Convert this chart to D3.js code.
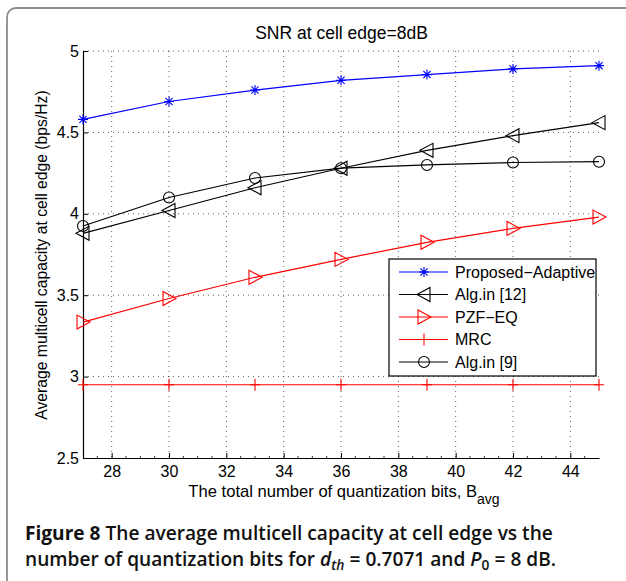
<!DOCTYPE html>
<html><head><meta charset="utf-8">
<script src="https://cdn.jsdelivr.net/npm/d3@7"></script>
<style>
body{margin:0;background:#fff;}
svg{display:block;}
</style></head>
<body>
<script>
// ---- data ----
const bits = [27, 30, 33, 36, 39, 42, 45];
const proposedAdaptive = [4.58, 4.69, 4.76, 4.82, 4.855, 4.89, 4.91];
const algIn12 = [3.88, 4.02, 4.16, 4.28, 4.39, 4.48, 4.56];
const pzfEq = [3.335, 3.48, 3.61, 3.72, 3.825, 3.91, 3.98];
const mrc = [2.95, 2.95, 2.95, 2.95, 2.95, 2.95, 2.95];
const algIn9 = [3.925, 4.10, 4.22, 4.28, 4.30, 4.315, 4.32];
const seriesNames = ["Proposed\u2212Adaptive", "Alg.in [12]", "PZF\u2212EQ", "MRC", "Alg.in [9]"];
const xTicks = [28, 30, 32, 34, 36, 38, 40, 42, 44];
const yTicks = [2.5, 3, 3.5, 4, 4.5, 5];
const yTickLabels = ["2.5", "3", "3.5", "4", "4.5", "5"];
const titleText = "SNR at cell edge=8dB";
const yLabel = "Average multicell capacity at cell edge (bps/Hz)";
const xLabel = "The total number of quantization bits, B";

const W = 626, H = 581;
const svg = d3.select("body").append("svg").attr("width", W).attr("height", H);
const font = "'Liberation Sans', Arial, sans-serif";

// outer frame
svg.append("rect").attr("x", 7).attr("y", 8).attr("width", 680).attr("height", 640)
  .attr("rx", 9).attr("fill", "none").attr("stroke", "#8c8c8c").attr("stroke-width", 1.8);

const x = d3.scaleLinear().domain([27, 45]).range([83, 599]);
const y = d3.scaleLinear().domain([2.5, 5]).range([458, 51]);

const g = svg.append("g");

// grid
g.append("g").selectAll("line").data(xTicks).join("line")
  .attr("x1", d => x(d)).attr("x2", d => x(d)).attr("y1", y(5)).attr("y2", y(2.5))
  .attr("stroke", "#333").attr("stroke-width", 0.8).attr("stroke-dasharray", "1,4");
g.append("g").selectAll("line").data(yTicks.filter(d => d > 2.5)).join("line")
  .attr("x1", x(27)).attr("x2", x(45)).attr("y1", d => y(d)).attr("y2", d => y(d))
  .attr("stroke", "#333").attr("stroke-width", 0.8).attr("stroke-dasharray", "1,4");

// axes
const xAxis = d3.axisBottom(x).tickValues(xTicks).tickSizeInner(-5).tickSizeOuter(0).tickPadding(8);
const yAxis = d3.axisLeft(y).tickValues(yTicks).tickFormat((d, i) => yTickLabels[i]).tickSizeInner(-5).tickSizeOuter(0).tickPadding(4);
const gx = g.append("g").attr("transform", `translate(0,${y(2.5)})`).call(xAxis);
const gy = g.append("g").attr("transform", `translate(${x(27)},0)`).call(yAxis);
[gx, gy].forEach(a => {
  a.select(".domain").attr("stroke", "#000").attr("stroke-width", 1.2);
  a.selectAll(".tick line").attr("stroke", "#000");
  a.selectAll("text").attr("font-family", font).attr("font-size", 16).attr("fill", "#000");
});
// minor ticks on x-axis
g.append("g").selectAll("line").data(d3.range(27.5, 45, 0.5).filter(v => !xTicks.includes(v))).join("line")
  .attr("x1", d => x(d)).attr("x2", d => x(d)).attr("y1", y(2.5)).attr("y2", y(2.5) - 2)
  .attr("stroke", "#000").attr("stroke-width", 0.8);

// title
svg.append("text").attr("x", 341.5).attr("y", 39).attr("text-anchor", "middle")
  .attr("font-family", font).attr("font-size", 17.5).text(titleText);

// y label
svg.append("text").attr("transform", `translate(47,255) rotate(-90)`).attr("text-anchor", "middle")
  .attr("font-family", font).attr("font-size", 15.7).text(yLabel);

// x label
const xl = svg.append("text").attr("x", 344).attr("y", 497).attr("text-anchor", "middle")
  .attr("font-family", font).attr("font-size", 16.6);
xl.append("tspan").text(xLabel);
xl.append("tspan").attr("dy", 7).attr("font-size", 14).text("avg");

// markers
function marker(sel, type, color) {
  if (type === "star") {
    const s = 5, d = s * 0.72;
    sel.append("path").attr("d", `M${-s},0H${s}M0,${-s}V${s}M${-d},${-d}L${d},${d}M${-d},${d}L${d},${-d}`)
      .attr("stroke", color).attr("stroke-width", 1.1).attr("fill", "none");
  } else if (type === "left") {
    sel.append("path").attr("d", "M-7,0L6,-7L6,7Z").attr("stroke", color).attr("stroke-width", 1.1).attr("fill", "none");
  } else if (type === "right") {
    sel.append("path").attr("d", "M7,0L-6,-7L-6,7Z").attr("stroke", color).attr("stroke-width", 1.1).attr("fill", "none");
  } else if (type === "plus") {
    sel.append("path").attr("d", "M-5,0H5M0,-6V6").attr("stroke", color).attr("stroke-width", 1.1).attr("fill", "none");
  } else if (type === "circle") {
    sel.append("circle").attr("r", 5.5).attr("stroke", color).attr("stroke-width", 1.1).attr("fill", "none");
  }
}

const series = [
  {name: seriesNames[0], vals: proposedAdaptive, color: "#0000ff", m: "star"},
  {name: seriesNames[1], vals: algIn12, color: "#000", m: "left"},
  {name: seriesNames[2], vals: pzfEq, color: "#ff0000", m: "right"},
  {name: seriesNames[3], vals: mrc, color: "#ff0000", m: "plus"},
  {name: seriesNames[4], vals: algIn9, color: "#000", m: "circle"}
];
const line = d3.line().x(d => x(d[0])).y(d => y(d[1]));
series.forEach(s => {
  const pts = bits.map((b, i) => [b, s.vals[i]]);
  g.append("path").attr("d", line(pts)).attr("fill", "none").attr("stroke", s.color).attr("stroke-width", 1.2);
  pts.forEach(p => {
    const mg = g.append("g").attr("transform", `translate(${x(p[0])},${y(p[1])})`);
    marker(mg, s.m, s.color);
  });
});

// legend
const lg = svg.append("g");
lg.append("rect").attr("x", 389).attr("y", 259).attr("width", 207).attr("height", 117)
  .attr("fill", "#fff").attr("stroke", "#000").attr("stroke-width", 1.2);
series.forEach((s, i) => {
  const yy = 272 + i * 22.5;
  lg.append("line").attr("x1", 399).attr("x2", 448).attr("y1", yy).attr("y2", yy)
    .attr("stroke", s.color).attr("stroke-width", 1.2);
  marker(lg.append("g").attr("transform", `translate(424,${yy})`), s.m, s.color);
  lg.append("text").attr("x", 455).attr("y", yy + 5.5).attr("font-family", font).attr("font-size", 16).text(s.name);
});

// caption
const capFont = "'Open Sans', 'Noto Sans', sans-serif";
const c1 = svg.append("text").attr("x", 25).attr("y", 540).attr("font-family", capFont).attr("font-size", 17).attr("fill", "#111");
c1.append("tspan").attr("font-weight", 700).text("Figure 8");
c1.append("tspan").attr("font-weight", 600).text(" The average multicell capacity at cell edge vs the");
const w1 = c1.node().getComputedTextLength();
const capSize = 17 * 528 / w1;
c1.attr("font-size", capSize);
const c2 = svg.append("text").attr("x", 25).attr("y", 566).attr("font-family", capFont).attr("font-size", capSize).attr("font-weight", 600).attr("fill", "#111");
c2.append("tspan").text("number of quantization bits for ");
c2.append("tspan").attr("font-style", "italic").text("d");
c2.append("tspan").attr("font-style", "italic").attr("font-size", capSize * 0.72).attr("dy", 4).text("th");
c2.append("tspan").attr("dy", -4).attr("dx", 5).text("=");
c2.append("tspan").attr("dx", 5).text("0.7071 and ");
c2.append("tspan").attr("font-style", "italic").text("P");
c2.append("tspan").attr("font-size", capSize * 0.72).attr("dy", 4).text("0");
c2.append("tspan").attr("dy", -4).attr("dx", 5).text("=");
c2.append("tspan").attr("dx", 5).text("8 dB.");
</script>
</body></html>
